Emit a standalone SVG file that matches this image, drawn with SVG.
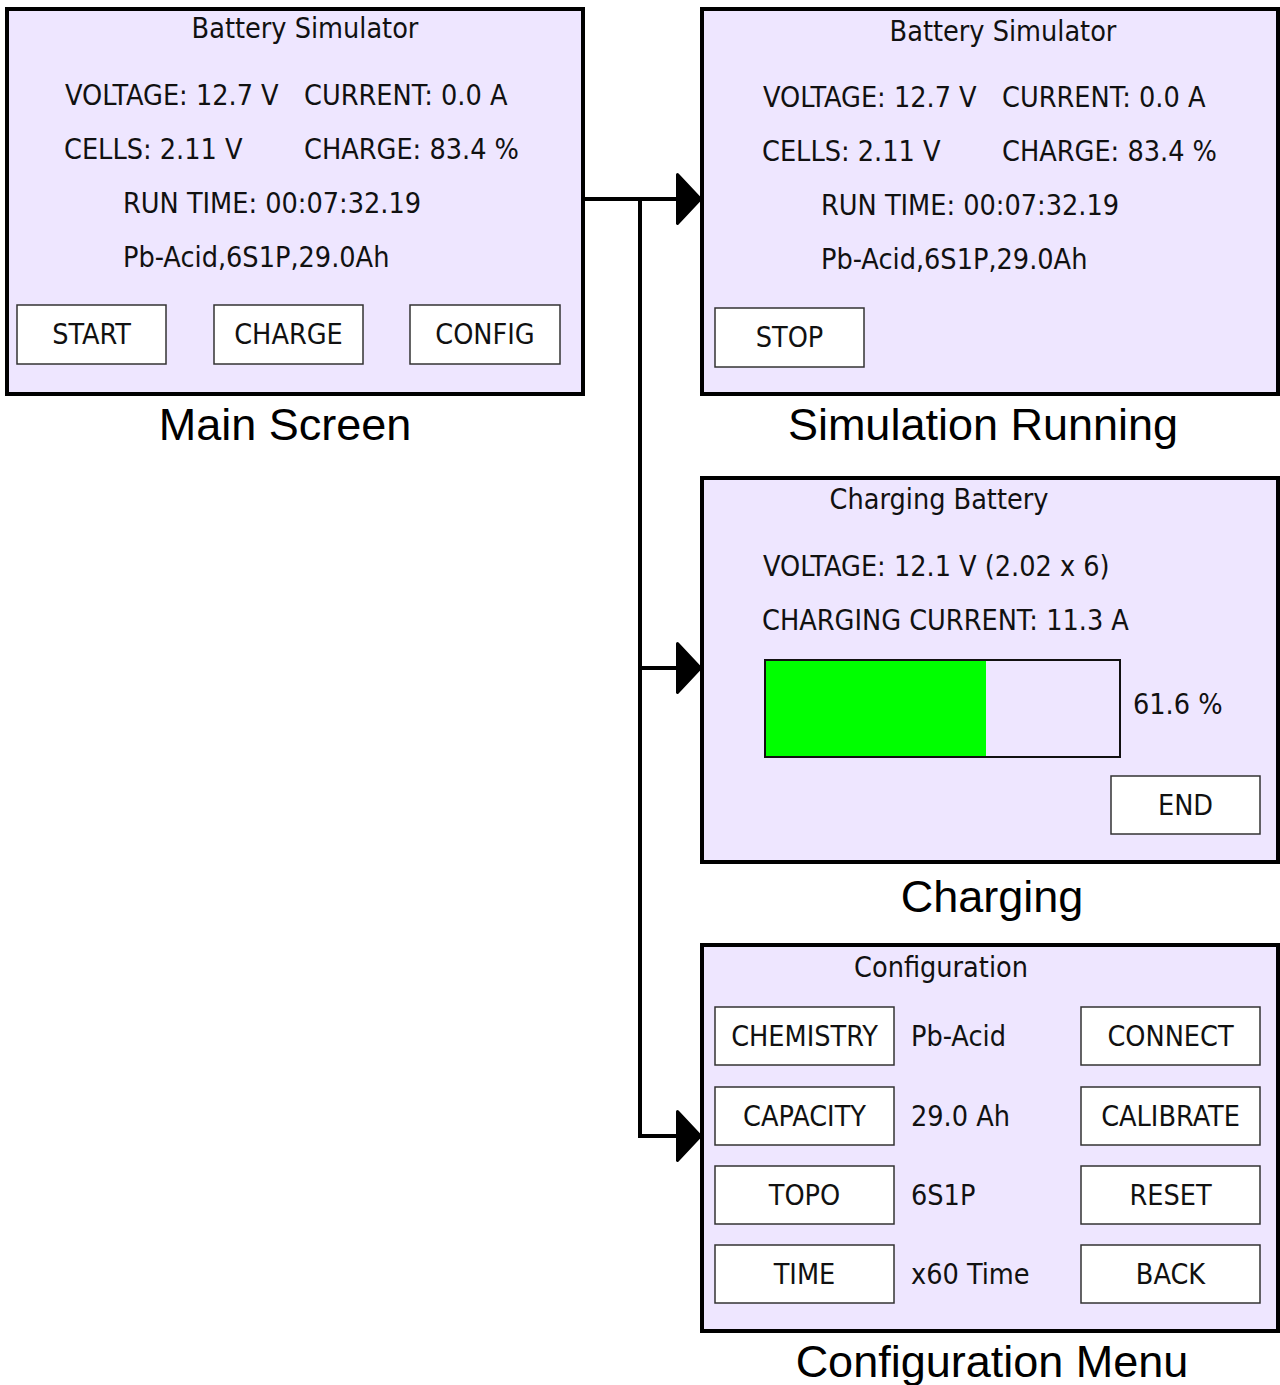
<svg xmlns="http://www.w3.org/2000/svg" width="1280" height="1385" viewBox="0 0 1280 1385">
  <style>
    .screen { fill: #EEE6FF; stroke: #000; stroke-width: 4; }
    .btn { fill: #FFF; stroke: #333; stroke-width: 1.5; }
    .t { font-family: "DejaVu Sans Condensed", "DejaVu Sans", sans-serif; font-size: 28.5px; fill: #111; }
    .c { text-anchor: middle; }
    .cap { font-family: "Liberation Sans", Arial, sans-serif; font-size: 45px; fill: #000; text-anchor: middle; }
    .wire { fill: none; stroke: #000; stroke-width: 4; }
  </style>
  <defs>
    <marker id="arrow" markerUnits="userSpaceOnUse" markerWidth="32" markerHeight="60" refX="4" refY="26" orient="auto">
      <path d="M1.5,1.5 L24.5,26 L1.5,50.5 Z" fill="#000" stroke="#000" stroke-width="3" stroke-linejoin="round"/>
    </marker>
  </defs>

  <!-- connectors -->
  <g id="connectors">
    <path class="wire" d="M583,199 H680" marker-end="url(#arrow)"/>
    <path class="wire" d="M640,199 V668 H680" marker-end="url(#arrow)"/>
    <path class="wire" d="M640,660 V1136 H680" marker-end="url(#arrow)"/>
  </g>

  <!-- main screen -->
  <g id="main-screen">
    <rect class="screen" x="7" y="9" width="576" height="385"/>
    <text class="t c" x="305" y="38">Battery Simulator</text>
    <text class="t" x="65" y="105">VOLTAGE: 12.7 V</text>
    <text class="t" x="304" y="105">CURRENT: 0.0 A</text>
    <text class="t" x="64" y="159">CELLS: 2.11 V</text>
    <text class="t" x="304" y="159">CHARGE: 83.4 %</text>
    <text class="t" x="123" y="213">RUN TIME: 00:07:32.19</text>
    <text class="t" x="123" y="267">Pb-Acid,6S1P,29.0Ah</text>
    <rect class="btn" x="17" y="305" width="149" height="59"/>
    <text class="t c" x="91.5" y="344">START</text>
    <rect class="btn" x="214" y="305" width="149" height="59"/>
    <text class="t c" x="288.5" y="344">CHARGE</text>
    <rect class="btn" x="410" y="305" width="150" height="59"/>
    <text class="t c" x="485" y="344">CONFIG</text>
    <text class="cap" x="285" y="440">Main Screen</text>
  </g>

  <!-- simulation running -->
  <g id="simulation-running">
    <rect class="screen" x="702" y="9" width="576" height="385"/>
    <text class="t c" x="1003" y="41">Battery Simulator</text>
    <text class="t" x="763" y="107">VOLTAGE: 12.7 V</text>
    <text class="t" x="1002" y="107">CURRENT: 0.0 A</text>
    <text class="t" x="762" y="161">CELLS: 2.11 V</text>
    <text class="t" x="1002" y="161">CHARGE: 83.4 %</text>
    <text class="t" x="821" y="215">RUN TIME: 00:07:32.19</text>
    <text class="t" x="821" y="269">Pb-Acid,6S1P,29.0Ah</text>
    <rect class="btn" x="715" y="308" width="149" height="59"/>
    <text class="t c" x="789.5" y="347">STOP</text>
    <text class="cap" x="983" y="440">Simulation Running</text>
  </g>

  <!-- charging -->
  <g id="charging">
    <rect class="screen" x="702" y="478" width="576" height="384"/>
    <text class="t c" x="939" y="509">Charging Battery</text>
    <text class="t" x="763" y="576">VOLTAGE: 12.1 V (2.02 x 6)</text>
    <text class="t" x="762" y="630">CHARGING CURRENT: 11.3 A</text>
    <rect x="765" y="660" width="221" height="97" fill="#00FF00"/>
    <rect x="765" y="660" width="355" height="97" fill="none" stroke="#111" stroke-width="2"/>
    <text class="t" x="1133" y="714">61.6 %</text>
    <rect class="btn" x="1111" y="776" width="149" height="58"/>
    <text class="t c" x="1185.5" y="815">END</text>
    <text class="cap" x="992" y="912">Charging</text>
  </g>

  <!-- configuration menu -->
  <g id="configuration-menu">
    <rect class="screen" x="702" y="945" width="576" height="386"/>
    <text class="t c" x="941" y="977">Configuration</text>
    <rect class="btn" x="715" y="1007" width="179" height="58"/>
    <text class="t c" x="804.5" y="1046">CHEMISTRY</text>
    <text class="t" x="911" y="1046">Pb-Acid</text>
    <rect class="btn" x="1081" y="1007" width="179" height="58"/>
    <text class="t c" x="1170.5" y="1046">CONNECT</text>
    <rect class="btn" x="715" y="1087" width="179" height="58"/>
    <text class="t c" x="804.5" y="1126">CAPACITY</text>
    <text class="t" x="911" y="1126">29.0 Ah</text>
    <rect class="btn" x="1081" y="1087" width="179" height="58"/>
    <text class="t c" x="1170.5" y="1126">CALIBRATE</text>
    <rect class="btn" x="715" y="1166" width="179" height="58"/>
    <text class="t c" x="804.5" y="1205">TOPO</text>
    <text class="t" x="911" y="1205">6S1P</text>
    <rect class="btn" x="1081" y="1166" width="179" height="58"/>
    <text class="t c" x="1170.5" y="1205">RESET</text>
    <rect class="btn" x="715" y="1245" width="179" height="58"/>
    <text class="t c" x="804.5" y="1284">TIME</text>
    <text class="t" x="911" y="1284">x60 Time</text>
    <rect class="btn" x="1081" y="1245" width="179" height="58"/>
    <text class="t c" x="1170.5" y="1284">BACK</text>
    <text class="cap" x="992" y="1377">Configuration Menu</text>
  </g>
</svg>
